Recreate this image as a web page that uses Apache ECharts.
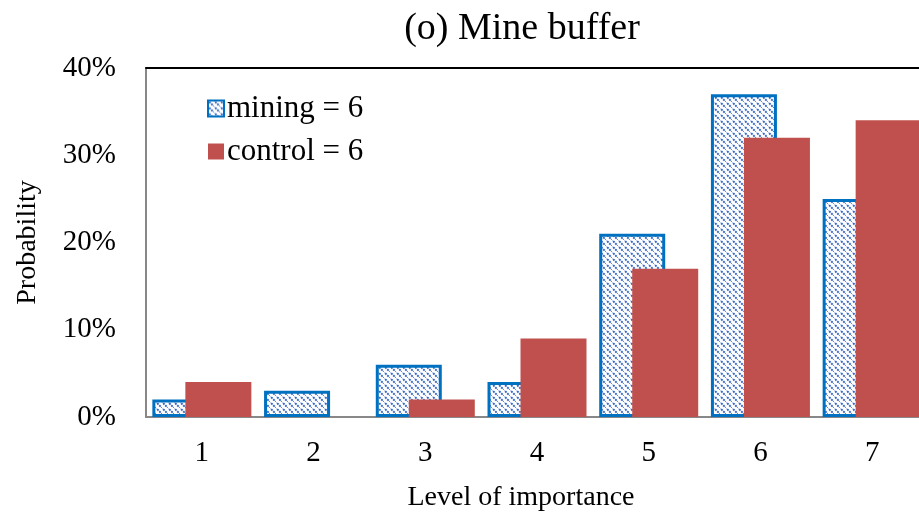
<!DOCTYPE html>
<html>
<head>
<meta charset="utf-8">
<script src="https://cdn.jsdelivr.net/npm/echarts@6/dist/echarts.min.js"></script>
<style>
html, body { margin: 0; padding: 0; background: #fff; }
#chart { width: 919px; height: 520px; }
</style>
</head>
<body>
<div id="chart"></div>
<script>
var categories = ["1", "2", "3", "4", "5", "6", "7"];
var miningValues = [2, 3, 6, 4, 21, 37, 25];
var controlValues = [4, 0, 2, 9, 17, 32, 34];
var yTicks = [0, 10, 20, 30, 40];

function hatchPattern() {
	var c = document.createElement("canvas");
	c.width = 6;
	c.height = 6;
	var ctx = c.getContext("2d");
	ctx.fillStyle = "#ffffff";
	ctx.fillRect(0, 0, 6, 6);
	ctx.strokeStyle = "#3466C4";
	ctx.lineWidth = 1.9;
	ctx.setLineDash([2, 1]);
	ctx.beginPath();
	ctx.moveTo(-1, -1);
	ctx.lineTo(7, 7);
	ctx.stroke();
	return { image: c, repeat: "repeat" };
}

var font = "Liberation Serif";
var chart = echarts.init(document.getElementById("chart"));
chart.setOption({
	animation: false,
	title: {
		text: "(o) Mine buffer",
		left: 517,
		top: 5,
		textAlign: "center",
		textStyle: { fontFamily: font, fontSize: 38, fontWeight: "normal", color: "#000" }
	},
	legend: {
		orient: "vertical",
		left: 202,
		top: 88,
		icon: "rect",
		itemWidth: 16,
		itemHeight: 16,
		itemGap: 12,
		textStyle: { fontFamily: font, fontSize: 31, color: "#000", padding: [0, 0, 0, -2] },
		data: ["mining = 6", "control = 6"]
	},
	grid: {
		outerBoundsMode: "none",
		containLabel: false,
		left: 146,
		right: -9,
		top: 68,
		bottom: 103
	},
	xAxis: [{
		type: "category",
		data: categories,
		name: "Level of importance",
		nameLocation: "middle",
		nameGap: 67,
		nameTextStyle: { fontFamily: font, fontSize: 28, color: "#000", padding: [0, 32, 0, 0] },
		axisLine: { lineStyle: { color: "#888", width: 2 } },
		axisTick: { show: false },
		axisLabel: { fontFamily: font, fontSize: 29, color: "#000", margin: 22 }
	}, {
		type: "category",
		data: categories,
		position: "top",
		axisLine: { lineStyle: { color: "#000", width: 2 } },
		axisTick: { show: false },
		axisLabel: { show: false }
	}],
	yAxis: {
		type: "value",
		min: 0,
		max: yTicks[yTicks.length - 1],
		interval: 10,
		name: "Probability",
		nameLocation: "middle",
		nameGap: 104,
		nameTextStyle: { fontFamily: font, fontSize: 28, color: "#000" },
		axisLine: { show: true, lineStyle: { color: "#888", width: 2 } },
		axisTick: { show: false },
		splitLine: { show: false },
		axisLabel: {
			fontFamily: font, fontSize: 29, color: "#000", margin: 30,
			formatter: function (v) { return v + "%"; }
		}
	},
	series: [{
		name: "mining = 6",
		type: "bar",
		data: miningValues,
		barWidth: 66,
		barGap: "-50%",
		itemStyle: { color: hatchPattern(), borderColor: "#0070C0", borderWidth: 3 }
	}, {
		name: "control = 6",
		type: "bar",
		data: controlValues,
		barWidth: 66,
		barGap: "-50%",
		itemStyle: { color: "#C0504D" }
	}]
});
</script>
</body>
</html>
